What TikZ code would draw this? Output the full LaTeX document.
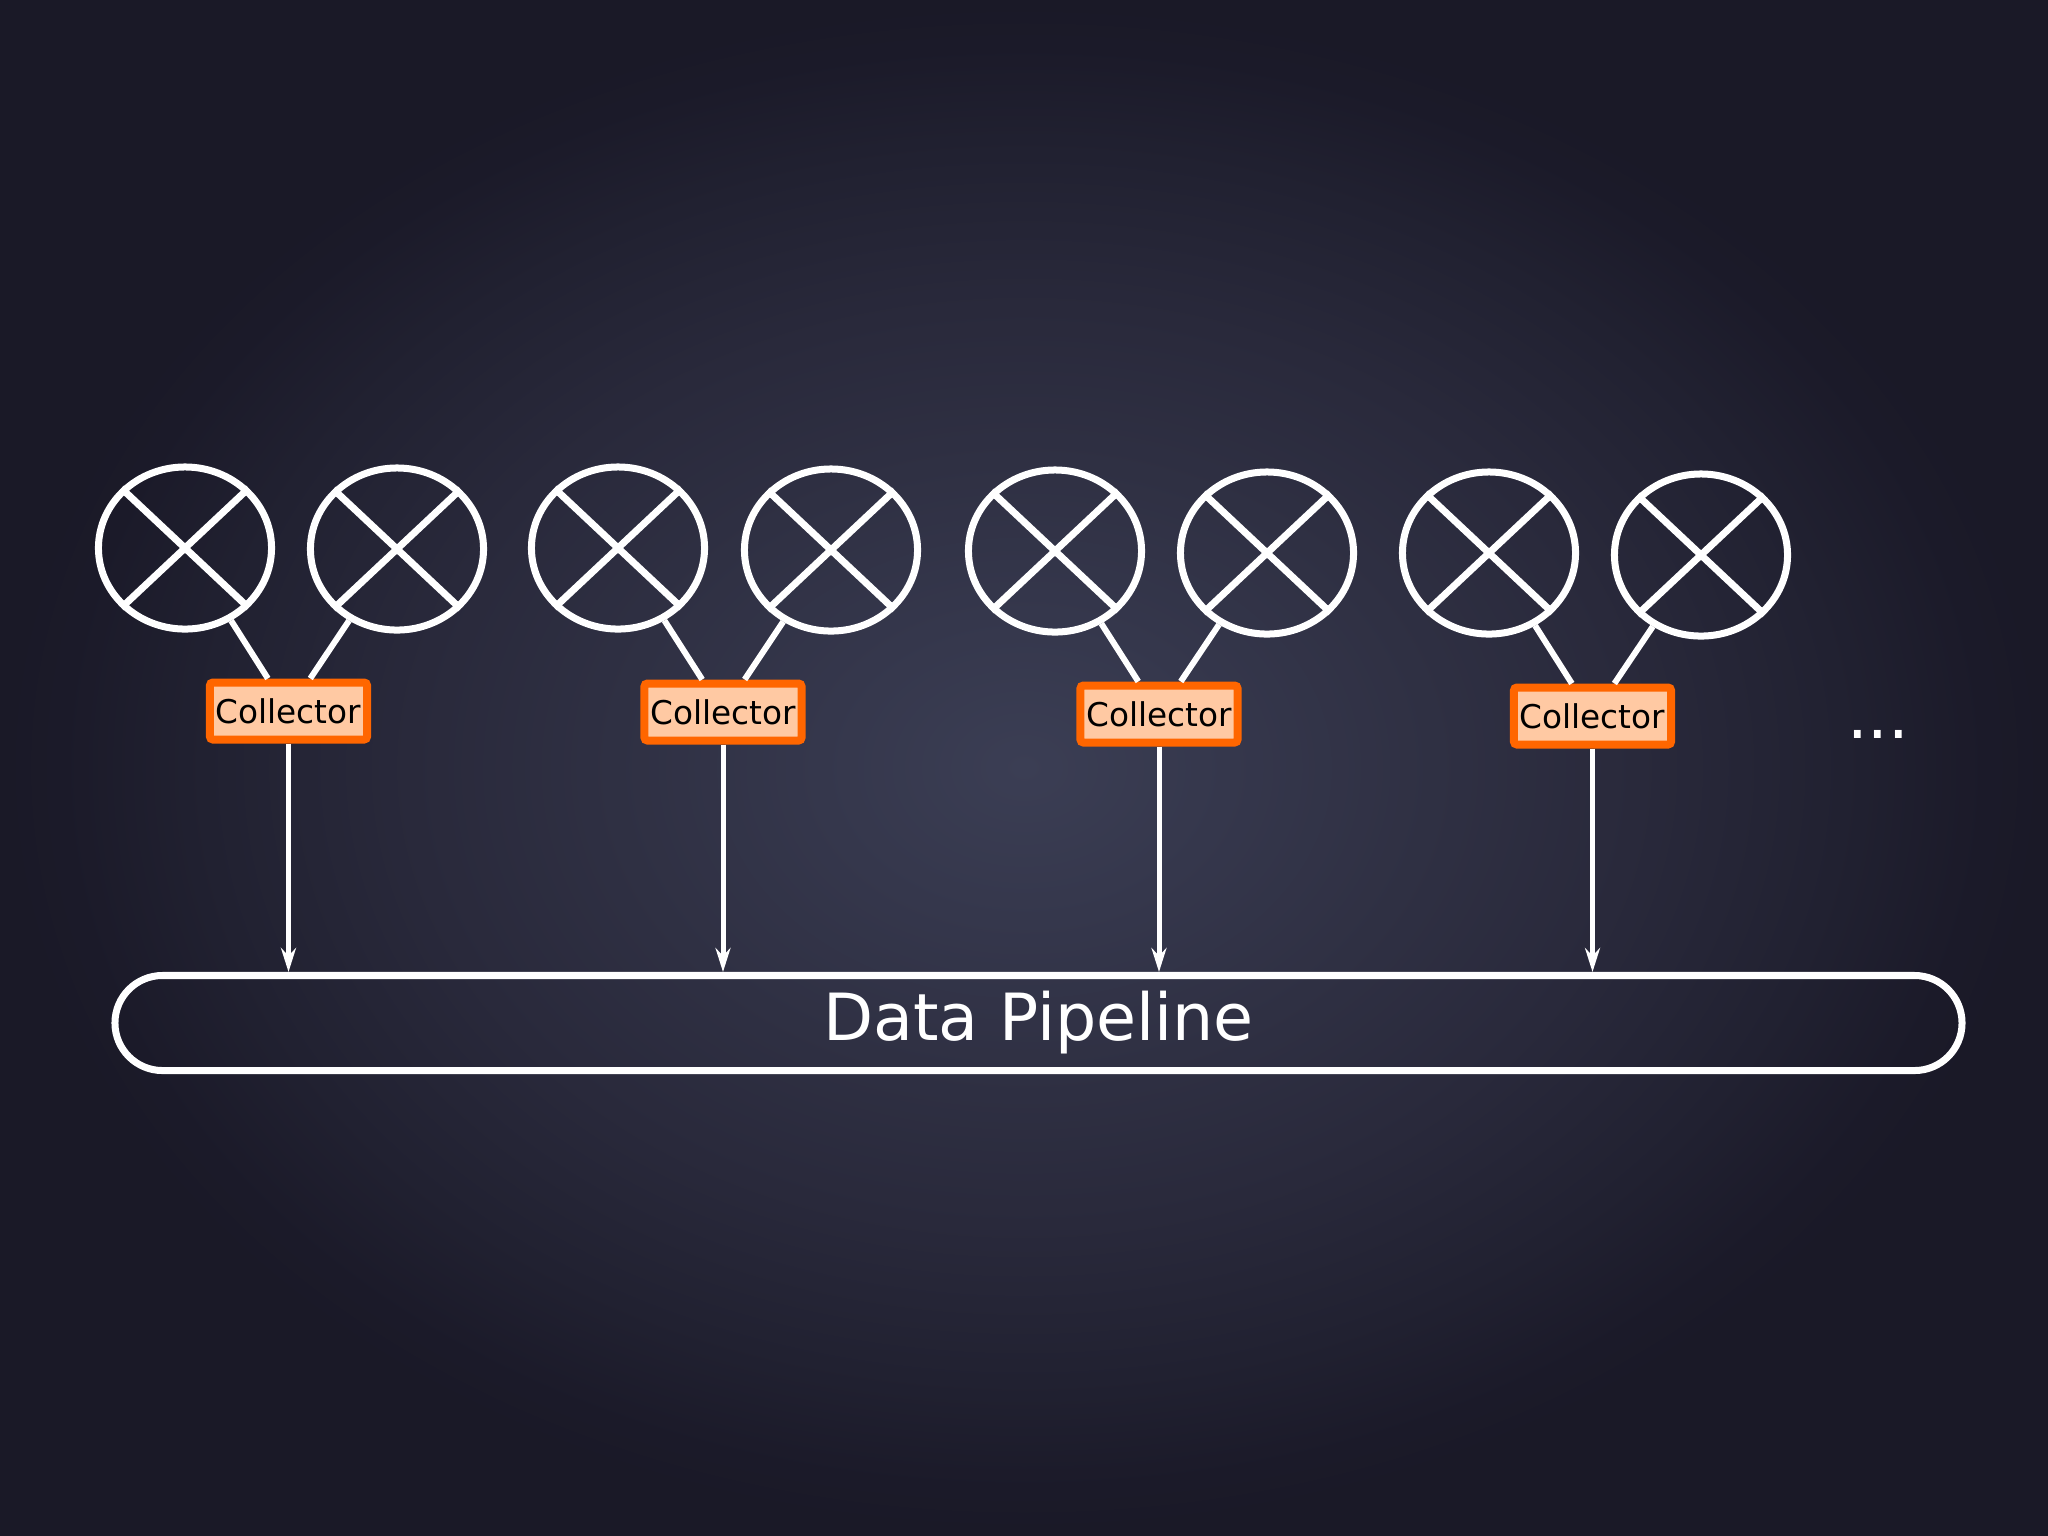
\documentclass[tikz,border=0pt]{standalone}
\usepackage{fontspec}
\setmainfont{DejaVu Sans}
\usetikzlibrary{shapes.geometric,arrows.meta}
\definecolor{bgA}{HTML}{3B3E54}
\definecolor{bgB}{HTML}{35374C}
\definecolor{bgC}{HTML}{2F3043}
\definecolor{bgD}{HTML}{29293B}
\definecolor{bgE}{HTML}{212131}
\definecolor{bgF}{HTML}{1B1A29}
\definecolor{bgG}{HTML}{1A1927}
\definecolor{corange}{HTML}{FF6600}
\definecolor{cpeach}{HTML}{FFC9A3}
\pgfdeclareradialshading{bgglow}{\pgfpoint{0bp}{0bp}}{color(0bp)=(bgA); color(5bp)=(bgB); color(10bp)=(bgC); color(15bp)=(bgD); color(20bp)=(bgE); color(23.5bp)=(bgF); color(25bp)=(bgG); color(50bp)=(bgG)}
\begin{document}
\begin{tikzpicture}[x=0.01cm,y=-0.01cm,
  sensor/.style={ellipse, draw=white, line width=0.07cm, minimum width=1.73cm, minimum height=1.62cm, inner sep=0pt},
  xline/.style={white, line width=0.07cm},
  coll/.style={draw=corange, fill=cpeach, line width=0.08cm, rounded corners=0.03cm, minimum width=1.57cm, minimum height=0.57cm, inner sep=0pt, font=\fontsize{9.3}{11}\selectfont, text=black},
  link/.style={white, line width=0.06cm},
  feed/.style={white, line width=0.05cm, -{Stealth[length=0.24cm,width=0.15cm,inset=0.08cm]}},
  pipe/.style={draw=white, line width=0.07cm, rounded corners=0.475cm, minimum width=18.46cm, minimum height=0.95cm, inner sep=0pt, font=\fontsize{18.5}{22}\selectfont, text=white},
  dots/.style={text=white, font=\fontsize{18.5}{22}\selectfont, anchor=base}
]
\shade[shading=bgglow] (0,0) rectangle (2048,1535);
\useasboundingbox (0,0) rectangle (2048,1535);

% sensors
\node[sensor] (c1) at (185,548) {};
\node[sensor] (c2) at (397,549) {};
\node[sensor] (c3) at (618,548) {};
\node[sensor] (c4) at (831,550) {};
\node[sensor] (c5) at (1055,551) {};
\node[sensor] (c6) at (1267,553) {};
\node[sensor] (c7) at (1489,553) {};
\node[sensor] (c8) at (1701,555) {};
\foreach \c in {c1,c2,c3,c4,c5,c6,c7,c8}{
  \draw[xline] (\c.north west) -- (\c.south east);
  \draw[xline] (\c.north east) -- (\c.south west);
}

% collectors
\node[coll] (k1) at (288.5,711) {Collector};
\node[coll] (k2) at (723,712) {Collector};
\node[coll] (k3) at (1159,714) {Collector};
\node[coll] (k4) at (1592.5,716) {Collector};

% pipeline
\node[pipe] (p) at (1038.5,1023) {Data Pipeline};

% ellipsis
\node[dots] (more) at (1878,738) {...};

% links
\draw[link] (c1) -- (k1);
\draw[link] (c2) -- (k1);
\draw[link] (c3) -- (k2);
\draw[link] (c4) -- (k2);
\draw[link] (c5) -- (k3);
\draw[link] (c6) -- (k3);
\draw[link] (c7) -- (k4);
\draw[link] (c8) -- (k4);

% feeds
\foreach \k in {k1,k2,k3,k4}{
  \draw[feed] (\k.south) -- (\k.south |- p.north);
}
\end{tikzpicture}
\end{document}
